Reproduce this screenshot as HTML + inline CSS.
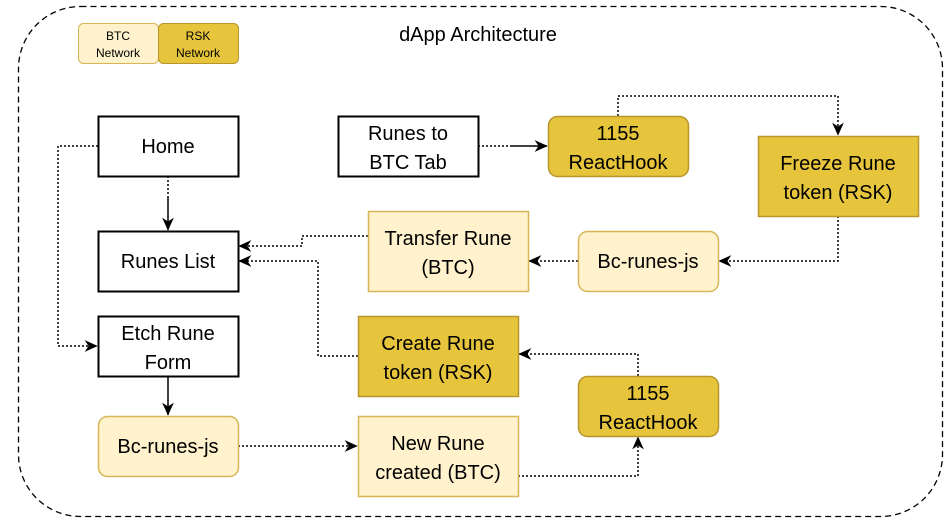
<!DOCTYPE html>
<html><head><meta charset="utf-8"><style>
html,body{margin:0;padding:0;background:#fff;}
svg{display:block;}
text{font-family:"Liberation Sans",Arial,sans-serif;fill:#000;}
</style></head><body>
<svg width="952" height="525" viewBox="0 0 952 525" xmlns="http://www.w3.org/2000/svg">
<defs>
<marker id="a" viewBox="0 0 10 10" refX="9.5" refY="5" markerWidth="13" markerHeight="13" orient="auto" markerUnits="userSpaceOnUse">
<path d="M0,0.5 L10,5 L0,9.5 L3,5 Z" fill="#000"/></marker>
</defs>
<rect x="18.5" y="6.5" width="924" height="510" rx="62" fill="none" stroke="#000" stroke-width="1.3" stroke-dasharray="6,4"/>
<text x="478" y="41" font-size="20" text-anchor="middle">dApp Architecture</text>
<rect x="78.5" y="23.5" width="80" height="40" rx="5" fill="#fff2cc" stroke="#d6b656"/>
<text x="118" y="40" font-size="12" text-anchor="middle">BTC</text>
<text x="118" y="57" font-size="12" text-anchor="middle">Network</text>
<rect x="158.5" y="23.5" width="80" height="40" rx="5" fill="#e6c53c" stroke="#b8962e"/>
<text x="198" y="40" font-size="12" text-anchor="middle">RSK</text>
<text x="198" y="57" font-size="12" text-anchor="middle">Network</text>

<g fill="none" stroke="#000" stroke-width="1.5" stroke-dasharray="2,2">
<path d="M98,146 H58 V346 H97" marker-end="url(#a)"/>
<path d="M168,176 V196"/>
<path d="M238,446 H357" marker-end="url(#a)"/>
<path d="M518,476 H638 V437" marker-end="url(#a)"/>
<path d="M638,376 V354 H519" marker-end="url(#a)"/>
<path d="M358,356 H318 V261 H239" marker-end="url(#a)"/>
<path d="M368,236 H302 V246 H239" marker-end="url(#a)"/>
<path d="M578,261 H529" marker-end="url(#a)"/>
<path d="M838,216 V261 H719" marker-end="url(#a)"/>
<path d="M618,116 V96 H838 V135" marker-end="url(#a)"/>
<path d="M478,146 H510"/>
</g>
<g fill="none" stroke="#000" stroke-width="1.5">
<path d="M168,196 V230" marker-end="url(#a)"/>
<path d="M168,376 V415" marker-end="url(#a)"/>
<path d="M510,146 H547" marker-end="url(#a)"/>
</g>

<g font-size="20" text-anchor="middle">
<rect x="98.5" y="116.5" width="140" height="60" fill="#fff" stroke="#000" stroke-width="2"/>
<text x="168" y="153">Home</text>
<rect x="98.5" y="231.5" width="140" height="60" fill="#fff" stroke="#000" stroke-width="2"/>
<text x="168" y="268">Runes List</text>
<rect x="98.5" y="316.5" width="140" height="60" fill="#fff" stroke="#000" stroke-width="2"/>
<text x="168" y="340">Etch Rune</text><text x="168" y="369">Form</text>
<rect x="98.5" y="416.5" width="140" height="60" rx="9" fill="#fff2cc" stroke="#d6b656" stroke-width="1.5"/>
<text x="168" y="453">Bc-runes-js</text>
<rect x="338.5" y="116.5" width="140" height="60" fill="#fff" stroke="#000" stroke-width="2"/>
<text x="408" y="140">Runes to</text><text x="408" y="169">BTC Tab</text>
<rect x="548.5" y="116.5" width="140" height="60" rx="9" fill="#e6c53c" stroke="#b8962e" stroke-width="1.5"/>
<text x="618" y="140">1155</text><text x="618" y="169">ReactHook</text>
<rect x="758.5" y="136.5" width="160" height="80" fill="#e6c53c" stroke="#b8962e" stroke-width="1.5"/>
<text x="838" y="170">Freeze Rune</text><text x="838" y="199">token (RSK)</text>
<rect x="368.5" y="211.5" width="160" height="80" fill="#fff2cc" stroke="#d6b656" stroke-width="1.5"/>
<text x="448" y="245">Transfer Rune</text><text x="448" y="274">(BTC)</text>
<rect x="578.5" y="231.5" width="140" height="60" rx="9" fill="#fff2cc" stroke="#d6b656" stroke-width="1.5"/>
<text x="648" y="268">Bc-runes-js</text>
<rect x="358.5" y="316.5" width="160" height="80" fill="#e6c53c" stroke="#b8962e" stroke-width="1.5"/>
<text x="438" y="350">Create Rune</text><text x="438" y="379">token (RSK)</text>
<rect x="358.5" y="416.5" width="160" height="80" fill="#fff2cc" stroke="#d6b656" stroke-width="1.5"/>
<text x="438" y="450">New Rune</text><text x="438" y="479">created (BTC)</text>
<rect x="578.5" y="376.5" width="140" height="60" rx="9" fill="#e6c53c" stroke="#b8962e" stroke-width="1.5"/>
<text x="648" y="400">1155</text><text x="648" y="429">ReactHook</text>
</g>
</svg>
</body></html>
